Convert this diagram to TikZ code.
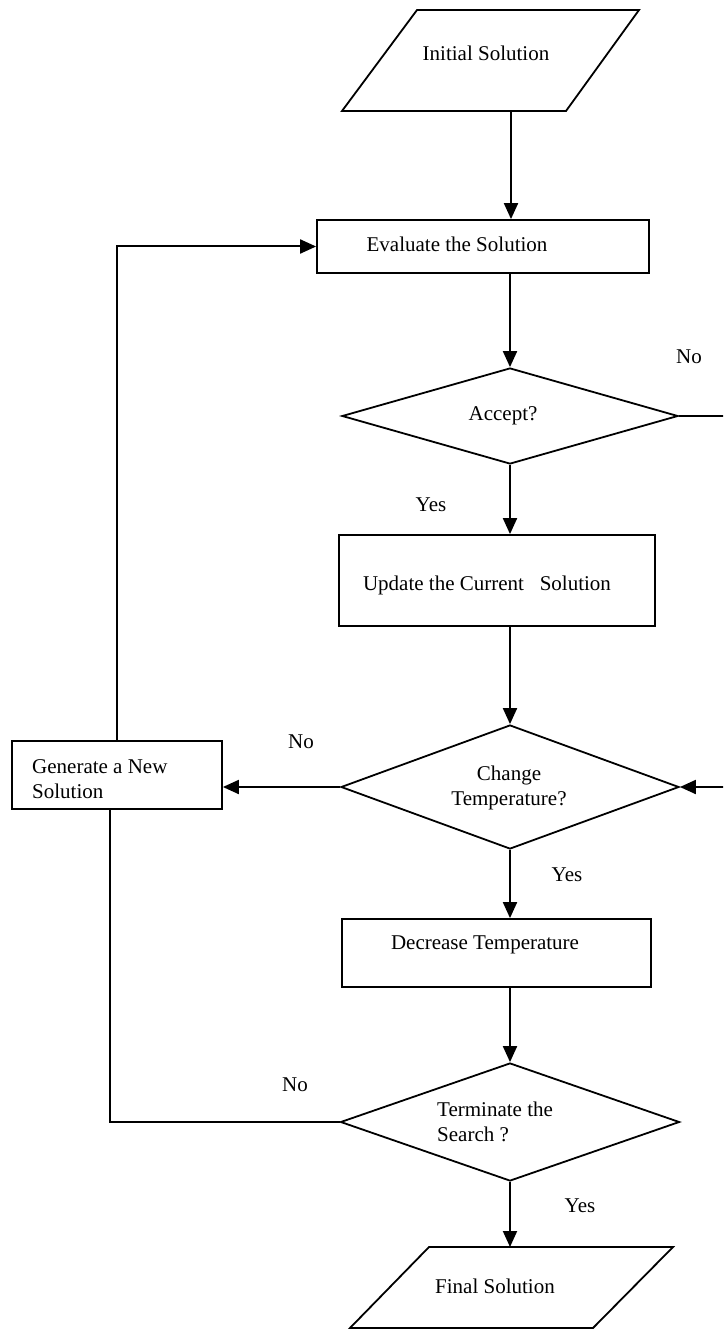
\documentclass[tikz,border=0pt]{standalone}
\usepackage{fontspec}
\setmainfont{Liberation Serif}
\usetikzlibrary{arrows.meta,shapes.geometric}
\begin{document}
\begin{tikzpicture}[x=1pt,y=-1pt,
  every node/.style={font=\fontsize{21}{25}\selectfont, inner sep=0pt},
  stepbox/.style={draw, line width=1.8pt, rectangle},
  decision/.style={draw, line width=1.8pt, diamond},
  iobox/.style={draw, line width=1.8pt, line join=miter},
  flow/.style={line width=2pt, -{Triangle[length=16pt,width=14pt]}},
  link/.style={line width=2pt},
  txt/.style={align=center},
  tag/.style={}]
\useasboundingbox (0,0) rectangle (723,1329);
\clip (0,0) rectangle (723,1329);

% input / output parallelograms
\draw[iobox] (417,10) -- (639,10) -- (566,111) -- (342,111) -- cycle;
\coordinate (init-b) at (511,111);
\node[txt] (init-t) at (486,53) {Initial Solution};

\draw[iobox] (429,1247) -- (673,1247) -- (593,1328) -- (350,1328) -- cycle;
\coordinate (final-t) at (510,1247);
\node[txt] (final-l) at (495,1286) {Final Solution};

% process boxes
\node[stepbox, minimum width=332pt, minimum height=53pt] (eval) at (483,246.5) {};
\node[txt] (eval-t) at (457,244) {Evaluate the Solution};

\node[stepbox, minimum width=316pt, minimum height=91pt] (update) at (497,580.5) {};
\node[txt] (update-t) at (487,585) {Update the Current\ \ \ Solution};

\node[stepbox, minimum width=309pt, minimum height=68pt] (dec) at (496.5,953) {};
\node[txt] (dec-t) at (485,945) {Decrease Temperature};

\node[stepbox, minimum width=210pt, minimum height=68pt] (gen) at (117,775) {};
\node[align=left, anchor=west] (gen-t) at (32,779) {Generate a New\\Solution};

% decisions
\node[decision, minimum width=336pt, minimum height=96pt] (accept) at (510,416) {};
\node[txt] (accept-t) at (503,416) {Accept?};

\node[decision, minimum width=338pt, minimum height=124pt] (change) at (510,787) {};
\node[txt] (change-t) at (509,788) {Change\\Temperature?};

\node[decision, minimum width=339pt, minimum height=118pt] (term) at (510,1122) {};
\node[align=left, anchor=west] (term-t) at (437,1122) {Terminate the\\Search ?};

% branch labels
\node[tag] (no1) at (689,357) {No};
\node[tag] (yes1) at (431,505) {Yes};
\node[tag] (no2) at (301,742) {No};
\node[tag] (yes2) at (567,875) {Yes};
\node[tag] (no3) at (295,1085) {No};
\node[tag] (yes3) at (580,1206) {Yes};

% connectors
\draw[flow] (init-b) -- (init-b |- eval.north);
\draw[flow] ([xshift=27pt]eval.south) -- (accept.north);
\draw[flow] (accept.south) -- (accept.south |- update.north);
\draw[flow] (accept.south |- update.south) -- (change.north);
\draw[flow] (change.south) -- (change.south |- dec.north);
\draw[flow] (change.south |- dec.south) -- (term.north);
\draw[flow] (term.south) -- (final-t);
\draw[flow] (change.west) -- (change.west -| gen.east);
\draw[flow] (gen.north) |- (eval.west);
\draw[flow] (accept.east) -- (735,416) -- (735,787) -- (change.east);
\draw[link] (term.west) -| ([xshift=-7pt]gen.south);
\end{tikzpicture}
\end{document}
